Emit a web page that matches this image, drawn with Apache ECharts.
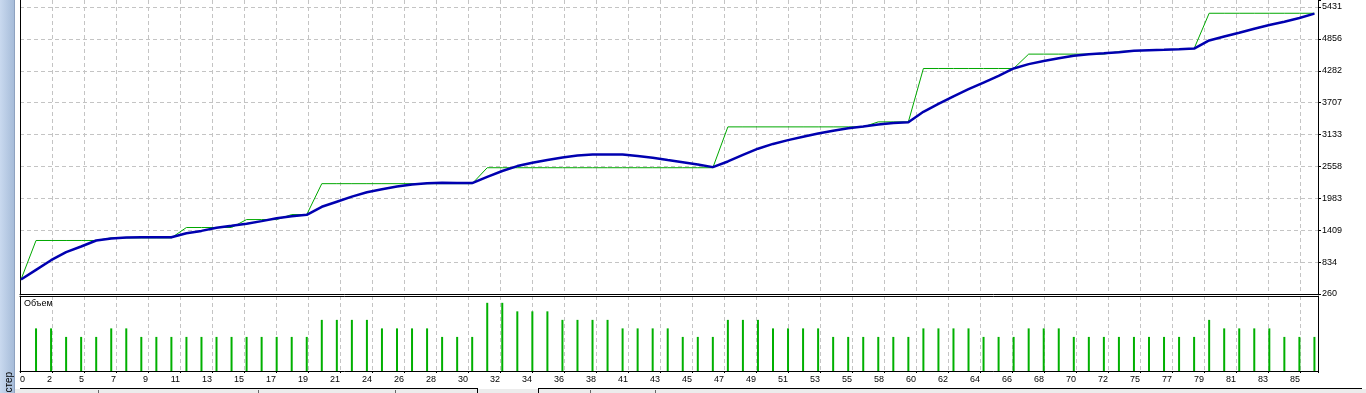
<!DOCTYPE html>
<html><head><meta charset="utf-8">
<script src="https://cdn.jsdelivr.net/npm/echarts@6/dist/echarts.min.js"></script>
<style>html,body{margin:0;padding:0;background:#fff;overflow:hidden}#c{width:1366px;height:393px}</style>
</head><body><div id="c"></div>
<script>
// x-axis tick labels (one per vertical gridline)
const xTickLabels = ['0','2','5','7','9','11','13','15','17','19','21','24','26','28','30','32','34','36','38','41','43','45','47','49','51','53','55','58','60','62','64','66','68','70','72','75','77','79','81','83','85'];
// y-axis tick labels
const yTickLabels = ['260','834','1409','1983','2558','3133','3707','4282','4856','5431'];
// thick blue curve, one value per bar 0..86
const blueLine = [520,695,869,1014,1116,1224,1260,1280,1283,1283,1283,
  1355,1397,1452,1488,1526,1573,1625,1661,1686,1831,
  1923,2014,2093,2149,2196,2232,2257,2266,2258,2258,
  2370,2476,2565,2623,2675,2720,2754,2774,2774,2772,
  2745,2716,2675,2635,2594,2546,2648,2765,2878,2964,
  3032,3092,3151,3203,3248,3276,3312,3339,3354,3542,
  3684,3822,3950,4070,4190,4323,4402,4458,4508,4551,
  4578,4596,4616,4641,4650,4659,4670,4682,4828,4898,
  4966,5040,5106,5165,5233,5311];
// thin green stepped line, one value per bar 0..86
const greenLine = [520,1224,1224,1224,1224,1224,1271,1271,1271,1271,1271,
  1458,1458,1458,1458,1601,1601,1601,1691,1691,2248,
  2248,2248,2248,2248,2248,2248,2248,2248,2248,2248,
  2535,2535,2535,2535,2535,2535,2535,2535,2535,2535,
  2535,2535,2535,2535,2535,2535,3271,3271,3271,3271,
  3271,3271,3271,3271,3271,3271,3361,3361,3361,4323,
  4323,4323,4323,4323,4323,4323,4582,4582,4582,4582,
  4582,4582,4629,4641,4650,4659,4670,4682,5318,5318,
  5318,5318,5318,5318,5318,5318];
// volume per bar 1..86
const volumes = [5,5,4,4,4,5,5,4,4,4, 4,4,4,4,4,4,4,4,4,6,
  6,6,6,5,5,5,5,4,4,4, 8,8,7,7,7,6,6,6,6,5,
  5,5,5,4,4,4,6,6,6,5, 5,5,5,4,4,4,4,4,4,5,
  5,5,5,4,4,4,5,5,5,4, 4,4,4,4,4,4,4,4,6,5,
  5,5,5,4,4,4];
const volumeTitle = 'Объем';
const sideTitle = 'Тестер';

// scales
const yMin = 260, yStep = (5431 - 260) / 9, yMax = 5557;
const xMin = -0.066, xStep = 32 / 15.04, xMax = xMin + 1298 / 15.04;
const volMax = 8.8;

const FONT = 'Liberation Sans';
const gridColor = '#c4c4c4';
const dash = [4, 3];

function yFmt(v) {
  const k = Math.round((v - yMin) / yStep);
  return (k >= 0 && k < yTickLabels.length && Math.abs(v - (yMin + k * yStep)) < 0.5) ? yTickLabels[k] : '';
}
function xFmt(v) {
  const k = Math.round((v - xMin) / xStep);
  return (k >= 0 && k < xTickLabels.length && Math.abs(v - (xMin + k * xStep)) < 0.01) ? xTickLabels[k] : '';
}

const chart = echarts.init(document.getElementById('c'), null, {renderer: 'canvas'});
const hidden = {show: false};
chart.setOption({
  animation: false,
  backgroundColor: '#fff',
  grid: [
    {left: 20, top: -1, width: 1298, height: 295, show: false},
    {left: 20, top: 296, width: 1298, height: 75, show: false}
  ],
  xAxis: [
    {gridIndex: 0, type: 'value', min: xMin, max: xMax, interval: xStep, position: 'bottom',
     axisLine: {show: true, onZero: false, lineStyle: {color: '#000', width: 1}},
     axisTick: hidden, axisLabel: hidden,
     splitLine: {show: true, showMinLine: false, showMaxLine: false, lineStyle: {color: gridColor, type: dash, width: 1}}},
    {gridIndex: 1, type: 'value', min: xMin, max: xMax, interval: xStep, position: 'bottom',
     axisLine: {show: true, onZero: false, lineStyle: {color: '#000', width: 1}},
     axisTick: {show: true, length: 2, lineStyle: {color: '#000'}},
     axisLabel: {show: true, formatter: xFmt, align: 'right', alignMinLabel: 'left', margin: 4,
       fontFamily: FONT, fontSize: 9, color: '#000', showMinLabel: true, showMaxLabel: true},
     splitLine: {show: true, showMinLine: false, showMaxLine: false, lineStyle: {color: gridColor, type: dash, width: 1}}},
    {gridIndex: 1, type: 'value', min: xMin, max: xMax, position: 'top',
     axisLine: {show: true, onZero: false, lineStyle: {color: '#000', width: 1}},
     axisTick: hidden, axisLabel: hidden, splitLine: hidden}
  ],
  yAxis: [
    {gridIndex: 0, type: 'value', min: yMin, max: yMax, interval: yStep, position: 'right',
     axisLine: {show: true, onZero: false, lineStyle: {color: '#000', width: 1}},
     axisTick: {show: true, length: 3, lineStyle: {color: '#000'}},
     axisLabel: {show: true, formatter: yFmt, margin: 4, fontFamily: FONT, fontSize: 9, color: '#000'},
     splitLine: {show: true, showMinLine: false, showMaxLine: false, lineStyle: {color: gridColor, type: dash, width: 1}}},
    {gridIndex: 0, type: 'value', min: yMin, max: yMax, position: 'left',
     axisLine: {show: true, onZero: false, lineStyle: {color: '#000', width: 1}},
     axisTick: hidden, axisLabel: hidden, splitLine: hidden},
    {gridIndex: 1, type: 'value', min: 0, max: volMax, position: 'left',
     axisLine: {show: true, onZero: false, lineStyle: {color: '#000', width: 1}},
     axisTick: hidden, axisLabel: hidden, splitLine: hidden},
    {gridIndex: 1, type: 'value', min: 0, max: volMax, position: 'right',
     axisLine: {show: true, onZero: false, lineStyle: {color: '#000', width: 1}},
     axisTick: hidden, axisLabel: hidden, splitLine: hidden}
  ],
  series: [
    {type: 'line', xAxisIndex: 0, yAxisIndex: 0, z: 2, showSymbol: false, silent: true,
     data: greenLine.map((v, i) => [i, v]),
     lineStyle: {color: '#00a800', width: 1}},
    {type: 'line', xAxisIndex: 0, yAxisIndex: 0, z: 3, showSymbol: false, silent: true,
     data: blueLine.map((v, i) => [i, v]),
     lineStyle: {color: '#0000b0', width: 2.5}},
    {type: 'bar', xAxisIndex: 1, yAxisIndex: 2, barWidth: 2, silent: true,
     data: volumes.map((v, i) => [i + 1, v]),
     itemStyle: {color: '#00b000'}}
  ],
  graphic: [
    {type: 'rect', left: 0, top: 0, shape: {x: 0, y: 0, width: 14, height: 393}, silent: true,
     style: {fill: new echarts.graphic.LinearGradient(0, 0, 1, 0, [
       {offset: 0, color: '#c9d9ef'}, {offset: 1, color: '#a6bcd9'}])}},
    {type: 'line', silent: true, shape: {x1: 14.5, y1: 0, x2: 14.5, y2: 393}, style: {stroke: '#8ea2c0', lineWidth: 1}},
    {type: 'text', silent: true, x: 9.5, y: 372, rotation: Math.PI / 2,
     style: {text: sideTitle, font: '10px "Liberation Sans"', fill: '#000', align: 'right', verticalAlign: 'middle'}},
    {type: 'text', silent: true, x: 24, y: 299,
     style: {text: volumeTitle, font: '9px "Liberation Sans"', fill: '#000', align: 'left', verticalAlign: 'top'}},
    {type: 'rect', silent: true, shape: {x: 15, y: 389, width: 1351, height: 4}, style: {fill: '#ececec'}},
    {type: 'line', silent: true, shape: {x1: 20, y1: 388.5, x2: 478, y2: 388.5}, style: {stroke: '#000', lineWidth: 1}},
    {type: 'line', silent: true, shape: {x1: 477.5, y1: 388, x2: 477.5, y2: 393}, style: {stroke: '#000', lineWidth: 1}},
    {type: 'line', silent: true, shape: {x1: 538, y1: 388.5, x2: 1362, y2: 388.5}, style: {stroke: '#000', lineWidth: 1}},
    {type: 'line', silent: true, shape: {x1: 538.5, y1: 388, x2: 538.5, y2: 393}, style: {stroke: '#000', lineWidth: 1}},
    {type: 'line', silent: true, shape: {x1: 98.5, y1: 390, x2: 98.5, y2: 393}, style: {stroke: '#666', lineWidth: 1}},
    {type: 'line', silent: true, shape: {x1: 258.5, y1: 390, x2: 258.5, y2: 393}, style: {stroke: '#666', lineWidth: 1}},
    {type: 'line', silent: true, shape: {x1: 395.5, y1: 390, x2: 395.5, y2: 393}, style: {stroke: '#666', lineWidth: 1}},
    {type: 'line', silent: true, shape: {x1: 590.5, y1: 390, x2: 590.5, y2: 393}, style: {stroke: '#666', lineWidth: 1}},
    {type: 'line', silent: true, shape: {x1: 655.5, y1: 390, x2: 655.5, y2: 393}, style: {stroke: '#666', lineWidth: 1}}
  ]
});
</script>
</body></html>
